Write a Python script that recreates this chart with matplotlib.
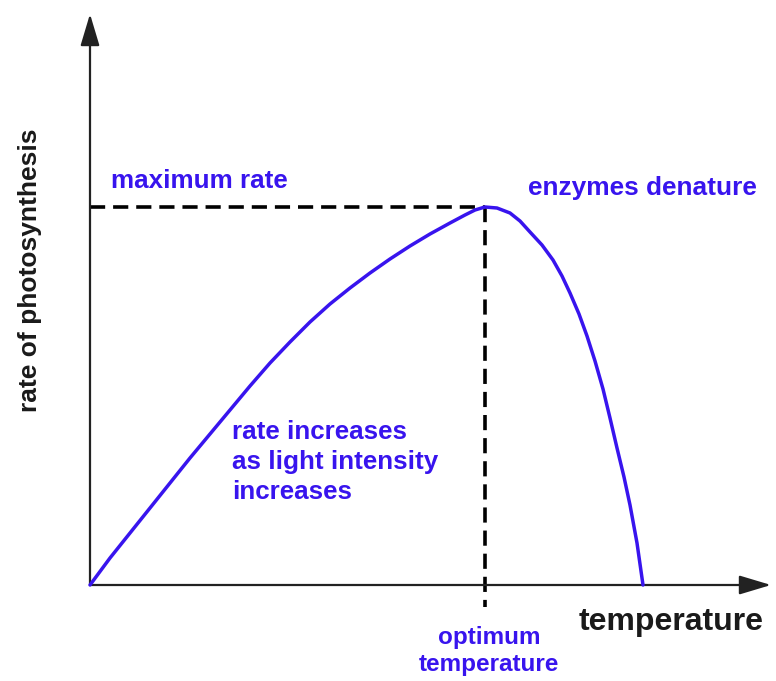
import matplotlib.pyplot as plt

# Rate of photosynthesis against temperature (arbitrary units, origin at 0,0)
temperature = [0, 20, 40, 60, 80, 100, 120, 140, 160, 180, 200, 220, 240, 260,
               280, 300, 320, 340, 360, 375, 385, 395,
               407, 420, 430, 440, 452, 463, 472, 480, 489, 497, 505, 513,
               520, 527, 534, 540, 547, 553]
rate = [0, 27, 52, 77, 102, 127, 151, 175, 199, 222, 243, 263, 281, 297,
        312, 326, 339, 351, 362, 370, 375, 378,
        377, 372, 364, 353, 340, 325, 309, 292, 271, 249, 224, 196,
        167, 137, 108, 80, 42, 0]

optimum_temp = 395
max_rate = 378

BLUE = '#3814ee'
DARK = '#1a1a1a'
FONT = 'Liberation Sans'

fig = plt.figure(figsize=(7.76, 6.81), dpi=100)
ax = fig.add_axes([0, 0, 1, 1])
ax.set_xlim(-90, 686)
ax.set_ylim(-96, 585)
ax.axis('off')

# axes with arrow heads
arrow_kw = dict(arrowstyle='-|>,head_length=1.4,head_width=0.42',
                color='#222222', lw=1.6, mutation_scale=14,
                shrinkA=0, shrinkB=0)
ax.annotate('', xy=(681, 0), xytext=(0, 0), arrowprops=arrow_kw)
ax.annotate('', xy=(0, 571), xytext=(0, 0), arrowprops=arrow_kw)

# dashed guides to the peak
dash_kw = dict(color='black', lw=2.6, dashes=(4.2, 2.2))
ax.plot([0, optimum_temp], [max_rate, max_rate], **dash_kw)
ax.plot([optimum_temp, optimum_temp], [max_rate, -22], **dash_kw)

ax.plot(temperature, rate, color=BLUE, lw=2.5, solid_capstyle='round',
        solid_joinstyle='round', zorder=3)

txt = dict(family=FONT, fontweight='bold')
ax.text(21, 404, 'maximum rate', color=BLUE, fontsize=18.7,
        va='center', ha='left', **txt)
ax.text(438, 397, 'enzymes denature', color=BLUE, fontsize=18.9,
        va='center', ha='left', **txt)
ax.text(142, 123, 'rate increases\nas light intensity\nincreases', color=BLUE,
        fontsize=18.7, va='center', ha='left', linespacing=1.3, **txt)
ax.text(399, -66, 'optimum\ntemperature', color=BLUE, fontsize=17.5,
        va='center', ha='center', linespacing=1.2, **txt)
ax.text(581, -37, 'temperature', color=DARK, fontsize=23,
        va='center', ha='center', **txt)
ax.text(-60, 315, 'rate of photosynthesis', color=DARK, fontsize=19,
        va='center', ha='center', rotation=90, **txt)

fig.savefig('out.png', dpi=100, facecolor='white')
